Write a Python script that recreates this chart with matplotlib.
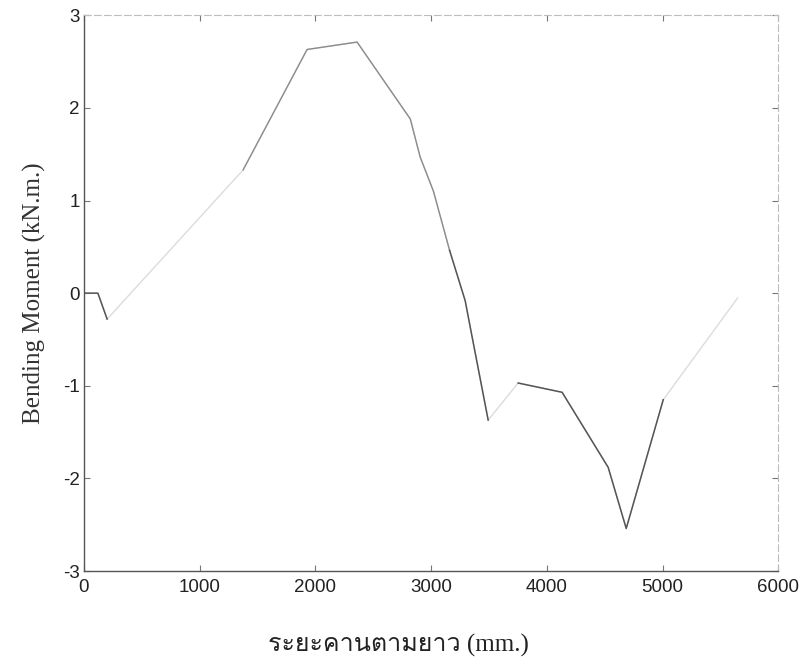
import numpy as np
import matplotlib
matplotlib.use("Agg")
import matplotlib.pyplot as plt
from matplotlib import font_manager
from matplotlib.ft2font import FT2Font

# distance along the beam (mm) and bending moment (kN.m.)
distance = [0, 120, 200, 1375, 1928, 2360, 2820, 2905, 3020, 3160,
            3294, 3340, 3493, 3752, 4132, 4530, 4686, 5006, 5650]
moment = [0.0, 0.0, -0.28, 1.33, 2.63, 2.71, 1.88, 1.47, 1.10, 0.46,
          -0.08, -0.38, -1.37, -0.97, -1.07, -1.88, -2.54, -1.15, -0.05]

x_ticks = [0, 1000, 2000, 3000, 4000, 5000, 6000]
y_ticks = [-3, -2, -1, 0, 1, 2, 3]

xlabel = "ระยะคานตามยาว (mm.)"
ylabel = "Bending Moment (kN.m.)"


def find_thai_family():
    # look for any installed font that has Thai glyphs
    for f in font_manager.fontManager.ttflist:
        try:
            ft = FT2Font(f.fname)
            if ft.get_char_index(ord("ร")) and ft.get_char_index(ord("ว")):
                return f.name
        except Exception:
            continue
    return None


plt.rcParams["axes.unicode_minus"] = False

thai = find_thai_family()
label_family = ["Liberation Serif"] + ([thai] if thai else []) + ["DejaVu Sans"]

x = np.array(distance)
y = np.array(moment)

fig = plt.figure(figsize=(8.03, 6.61), dpi=100)
ax = fig.add_axes([0.1046, 0.136, 0.8646, 0.841])

# scanned original: some stretches of the curve are faded
ax.plot(x, y, color="#dcdcdc", lw=1.0)
ax.plot(x[0:3], y[0:3], color="#555555", lw=1.1)
ax.plot(x[3:10], y[3:10], color="#8c8c8c", lw=1.0)
ax.plot(x[9:13], y[9:13], color="#555555", lw=1.1)
ax.plot(x[13:18], y[13:18], color="#555555", lw=1.1)

ax.set_xlim(0, 6000)
ax.set_ylim(-3, 3)
ax.set_xticks(x_ticks)
ax.set_yticks(y_ticks)
ax.tick_params(direction="in", length=4, width=0.8, colors="#777777",
               top=True, right=True, labelsize=13.5, labelcolor="#222222")
ax.tick_params(axis="x", pad=6)
ax.tick_params(axis="y", pad=3)
for lab in ax.get_xticklabels() + ax.get_yticklabels():
    lab.set_family("Liberation Sans")

for side in ["left", "bottom"]:
    ax.spines[side].set_color("#555555")
    ax.spines[side].set_linewidth(1.0)
for side in ["top", "right"]:
    ax.spines[side].set_color("#bdbdbd")
    ax.spines[side].set_linewidth(0.8)
    ax.spines[side].set_linestyle((0, (6, 3)))

ax.set_ylabel(ylabel, family=["Liberation Serif"], fontsize=18,
              color="#333333", labelpad=12)
fig.text(398 / 803, 1 - 645 / 661, xlabel, family=label_family,
         fontsize=18, color="#222222", ha="center", va="center")

fig.savefig("out.png", dpi=100)
